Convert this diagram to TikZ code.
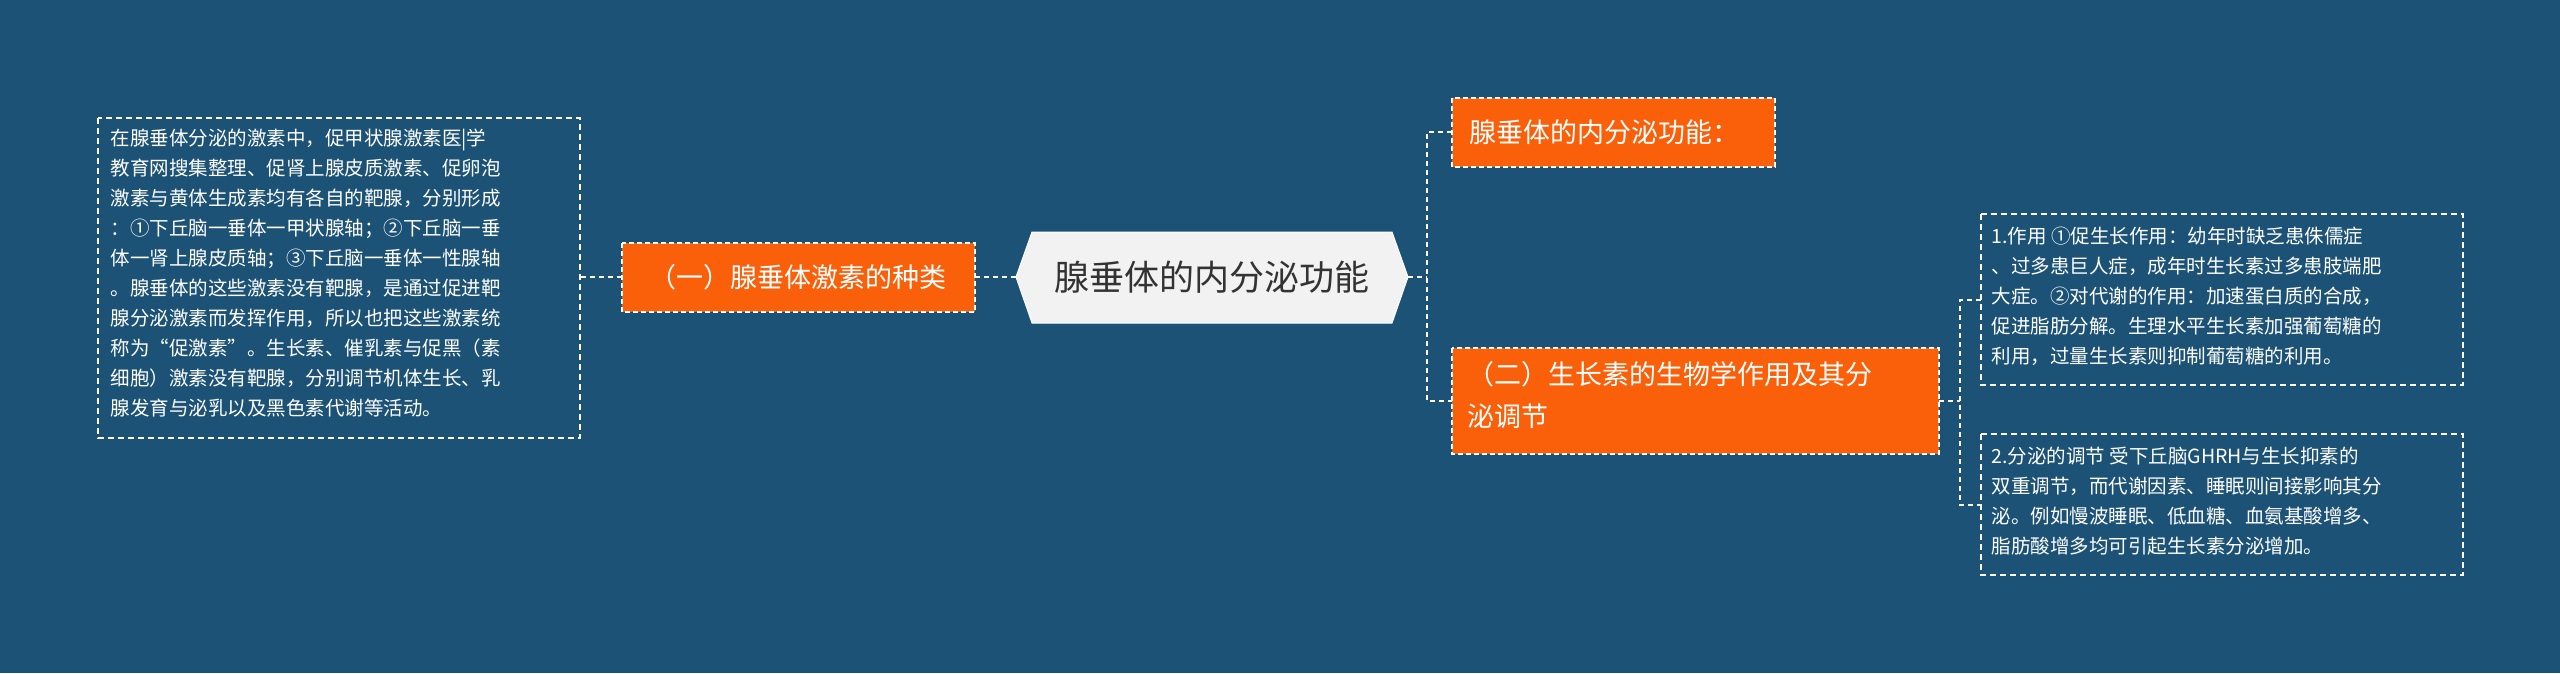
\documentclass[tikz,border=0pt]{standalone}
\usepackage{fontspec}
\setmainfont{Noto Sans CJK SC}
\begin{document}
\begin{tikzpicture}[x=1pt,y=-1pt,
  con/.style={draw=white,dashed,line width=1.6pt,dash pattern=on 5pt off 4pt},
  orange/.style={fill=orangec,draw=white,dashed,line width=1.2pt,dash pattern=on 5pt off 3pt,text=white,font=\fontsize{27}{40}\selectfont,inner sep=0pt},
  txt/.style={draw=white,dashed,line width=1.2pt,dash pattern=on 6pt off 4pt,text=white,font=\fontsize{19.5}{30}\selectfont,align=left,inner sep=0pt}]
\definecolor{bgc}{HTML}{1B5276}
\definecolor{orangec}{HTML}{FA5F0A}
\path[fill=bgc] (0,0) rectangle (2560,673);
\useasboundingbox (0,0) rectangle (2560,673);
% center
\path[fill=white!95!black,draw=white,line width=1pt] (1016,277) -- (1032,232) -- (1392,232) -- (1408,277) -- (1392,323) -- (1032,323) -- cycle;
\node[font=\fontsize{35}{40}\selectfont,text=black!80] (c) at (1212,277) {腺垂体的内分泌功能};
\coordinate (cl) at (1016,277);
\coordinate (cr) at (1408,277);
% left
\path[orange] (622,243) rectangle (975,312);
\node[text=white,font=\fontsize{27}{40}\selectfont] (l1) at (798,277) {（一）腺垂体激素的种类};
\coordinate (l1r) at (975,277);
\coordinate (l1l) at (622,277);
\path[txt] (98,118) rectangle (580,438);
\node[txt,draw=none,anchor=north west] (lt) at (110,128) {在腺垂体分泌的激素中，促甲状腺激素医|学\\教育网搜集整理、促肾上腺皮质激素、促卵泡\\激素与黄体生成素均有各自的靶腺，分别形成\\：①下丘脑一垂体一甲状腺轴；②下丘脑一垂\\体一肾上腺皮质轴；③下丘脑一垂体一性腺轴\\。腺垂体的这些激素没有靶腺，是通过促进靶\\腺分泌激素而发挥作用，所以也把这些激素统\\称为“促激素”。生长素、催乳素与促黑（素\\细胞）激素没有靶腺，分别调节机体生长、乳\\腺发育与泌乳以及黑色素代谢等活动。};
\coordinate (ltr) at (580,277);
\draw[con] (cl) -- (l1r);
\draw[con] (l1l) -- (ltr);
% right
\path[orange] (1452,98) rectangle (1775,167);
\node[text=white,font=\fontsize{27}{40}\selectfont,anchor=west] (r1) at (1466,132) {腺垂体的内分泌功能：};
\path[orange] (1452,348) rectangle (1939,454);
\node[text=white,font=\fontsize{27}{42}\selectfont,anchor=north west,align=left] (r2) at (1464,358) {（二）生长素的生物学作用及其分\\泌调节};
\coordinate (r1l) at (1452,132);
\coordinate (r2l) at (1452,401);
\coordinate (bx) at (1427,277);
\draw[con] (cr) -- (bx);
\draw[con] (r1l) -| (bx) |- (r2l);
\path[txt] (1981,214) rectangle (2463,385);
\node[txt,draw=none,anchor=north west] (t1) at (1991,226) {1.作用 ①促生长作用：幼年时缺乏患侏儒症\\、过多患巨人症，成年时生长素过多患肢端肥\\大症。②对代谢的作用：加速蛋白质的合成，\\促进脂肪分解。生理水平生长素加强葡萄糖的\\利用，过量生长素则抑制葡萄糖的利用。};
\path[txt] (1981,434) rectangle (2463,575);
\node[txt,draw=none,anchor=north west] (t2) at (1991,446) {2.分泌的调节 受下丘脑GHRH与生长抑素的\\双重调节，而代谢因素、睡眠则间接影响其分\\泌。例如慢波睡眠、低血糖、血氨基酸增多、\\脂肪酸增多均可引起生长素分泌增加。};
\coordinate (r2r) at (1939,401);
\coordinate (bx2) at (1960,401);
\coordinate (t1l) at (1981,300);
\coordinate (t2l) at (1981,505);
\draw[con] (r2r) -- (bx2);
\draw[con] (t1l) -| (bx2) |- (t2l);
\end{tikzpicture}
\end{document}
